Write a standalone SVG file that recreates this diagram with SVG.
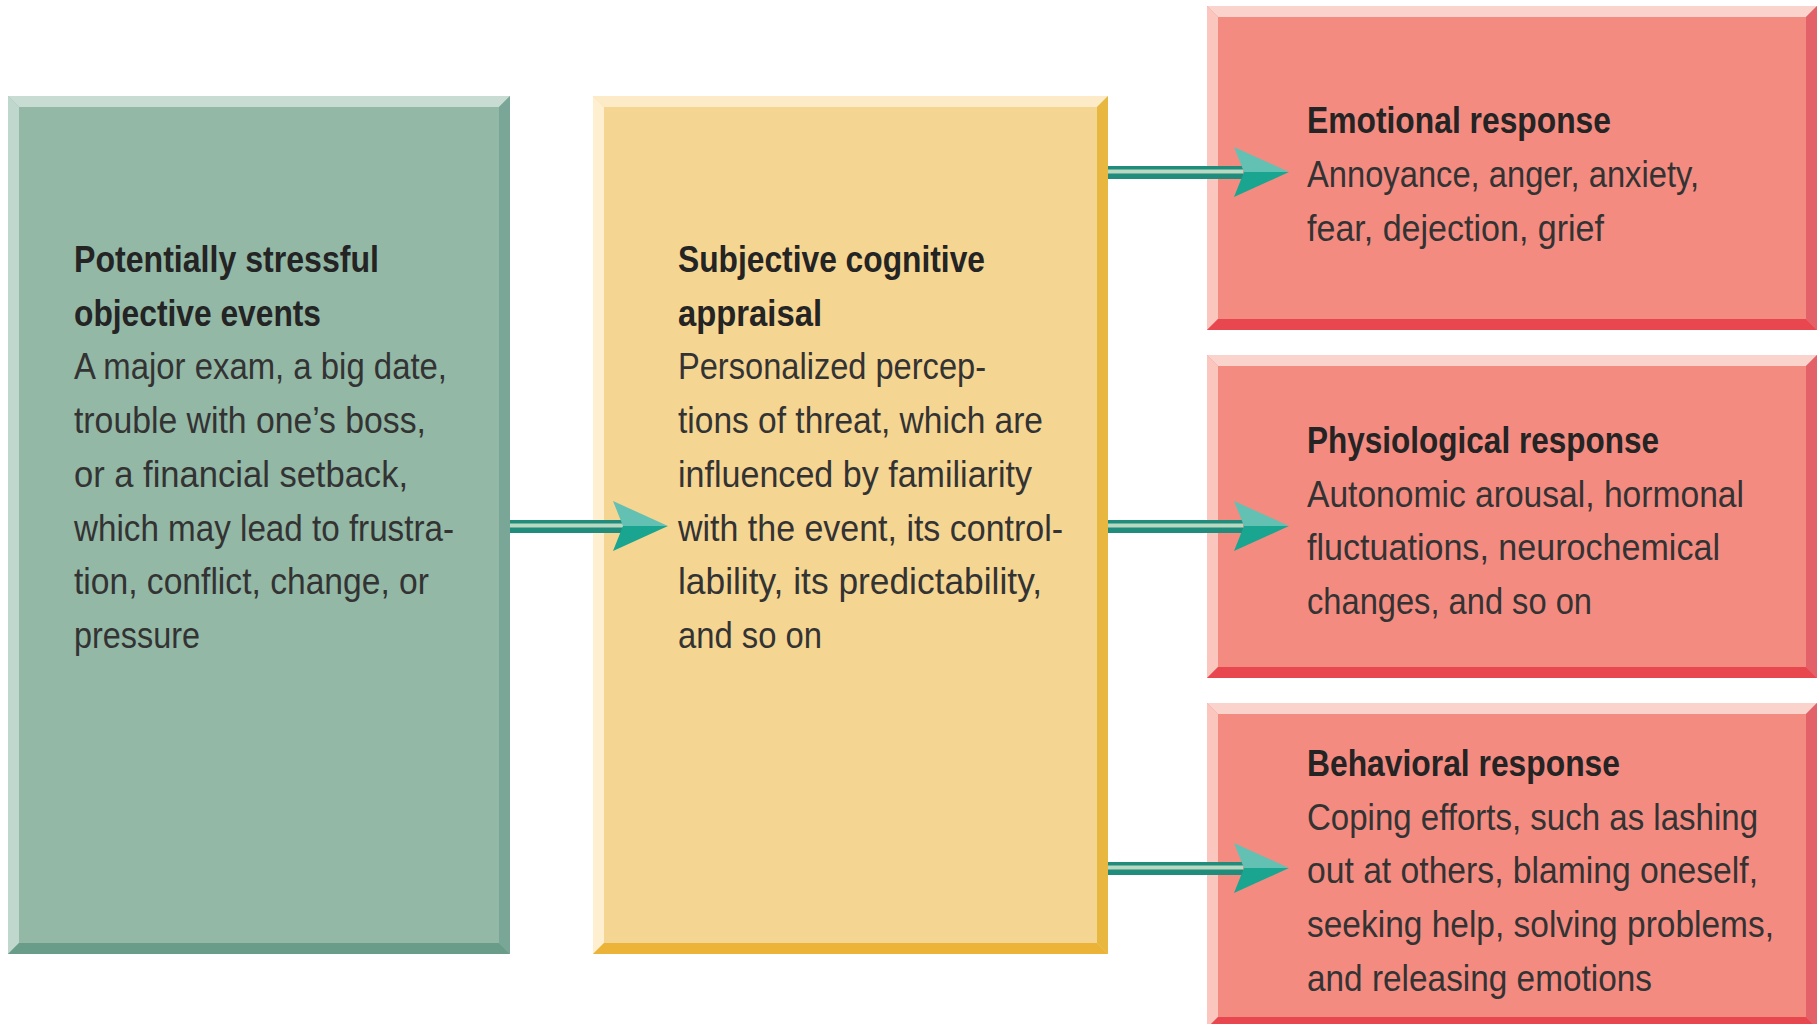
<svg xmlns="http://www.w3.org/2000/svg" width="1817" height="1024" viewBox="0 0 1817 1024">
<style>
text{font-family:"Liberation Sans","Open Sans",sans-serif;font-size:37px}
.t{font-weight:bold;fill:#242424}
.b{fill:#333}
.g{fill:#93b8a6}.gT{fill:#c8dcd3}.gL{fill:#bfd7cd}.gR{fill:#7aa697}.gB{fill:#6a9c8a}
.y{fill:#f5d592}.yT{fill:#fcebc6}.yL{fill:#fdefcf}.yR{fill:#e8b740}.yB{fill:#ebb438}
.r{fill:#f48b81}.rT{fill:#f9d3cc}.rL{fill:#fac6be}.rR{fill:#e3626a}.rB{fill:#e8474f}
.sd{fill:#1f8c7c}.sl{fill:#b8d8c2}
</style>
<defs>
<g id="head">
<polygon points="-55,-25 0,0 -45,0" fill="#62c1b2"/>
<polygon points="-45,0 0,0 -55,25" fill="#19a58f"/>
</g>
</defs>
<rect width="1817" height="1024" fill="#ffffff"/>

<g id="node-events">
<rect class="g" x="8" y="96" width="502" height="858"/>
<polygon class="gT" points="8,96 510,96 499,107 19,107"/>
<polygon class="gL" points="8,96 19,107 19,943 8,954"/>
<polygon class="gR" points="510,96 510,954 499,943 499,107"/>
<polygon class="gB" points="8,954 19,943 499,943 510,954"/>
<text class="t" x="74" y="272" textLength="305" lengthAdjust="spacingAndGlyphs">Potentially stressful</text>
<text class="t" x="74" y="325.7" textLength="247" lengthAdjust="spacingAndGlyphs">objective events</text>
<text class="b" x="74" y="379.4" textLength="373" lengthAdjust="spacingAndGlyphs">A major exam, a big date,</text>
<text class="b" x="74" y="433" textLength="352" lengthAdjust="spacingAndGlyphs">trouble with one’s boss,</text>
<text class="b" x="74" y="486.8" textLength="334" lengthAdjust="spacingAndGlyphs">or a financial setback,</text>
<text class="b" x="74" y="540.5" textLength="380" lengthAdjust="spacingAndGlyphs">which may lead to frustra-</text>
<text class="b" x="74" y="594" textLength="355" lengthAdjust="spacingAndGlyphs">tion, conflict, change, or</text>
<text class="b" x="74" y="648" textLength="126" lengthAdjust="spacingAndGlyphs">pressure</text>
</g>

<g id="node-appraisal">
<rect class="y" x="593" y="96" width="515" height="858"/>
<polygon class="yT" points="593,96 1108,96 1097,107 604,107"/>
<polygon class="yL" points="593,96 604,107 604,943 593,954"/>
<polygon class="yR" points="1108,96 1108,954 1097,943 1097,107"/>
<polygon class="yB" points="593,954 604,943 1097,943 1108,954"/>
<text class="t" x="678" y="272" textLength="307" lengthAdjust="spacingAndGlyphs">Subjective cognitive</text>
<text class="t" x="678" y="325.7" textLength="144" lengthAdjust="spacingAndGlyphs">appraisal</text>
<text class="b" x="678" y="379.4" textLength="308" lengthAdjust="spacingAndGlyphs">Personalized percep-</text>
<text class="b" x="678" y="433" textLength="365" lengthAdjust="spacingAndGlyphs">tions of threat, which are</text>
<text class="b" x="678" y="486.8" textLength="354" lengthAdjust="spacingAndGlyphs">influenced by familiarity</text>
<text class="b" x="678" y="540.5" textLength="385" lengthAdjust="spacingAndGlyphs">with the event, its control-</text>
<text class="b" x="678" y="594" textLength="364" lengthAdjust="spacingAndGlyphs">lability, its predictability,</text>
<text class="b" x="678" y="648" textLength="144" lengthAdjust="spacingAndGlyphs">and so on</text>
</g>

<g id="node-emotional">
<rect class="r" x="1207" y="6" width="610" height="324"/>
<polygon class="rT" points="1207,6 1817,6 1806,17 1218,17"/>
<polygon class="rL" points="1207,6 1218,17 1218,319 1207,330"/>
<polygon class="rR" points="1817,6 1817,330 1806,319 1806,17"/>
<polygon class="rB" points="1207,330 1218,319 1806,319 1817,330"/>
<text class="t" x="1307" y="133" textLength="304" lengthAdjust="spacingAndGlyphs">Emotional response</text>
<text class="b" x="1307" y="187" textLength="392" lengthAdjust="spacingAndGlyphs">Annoyance, anger, anxiety,</text>
<text class="b" x="1307" y="241" textLength="297" lengthAdjust="spacingAndGlyphs">fear, dejection, grief</text>
</g>

<g id="node-physiological">
<rect class="r" x="1207" y="355" width="610" height="323"/>
<polygon class="rT" points="1207,355 1817,355 1806,366 1218,366"/>
<polygon class="rL" points="1207,355 1218,366 1218,667 1207,678"/>
<polygon class="rR" points="1817,355 1817,678 1806,667 1806,366"/>
<polygon class="rB" points="1207,678 1218,667 1806,667 1817,678"/>
<text class="t" x="1307" y="453" textLength="352" lengthAdjust="spacingAndGlyphs">Physiological response</text>
<text class="b" x="1307" y="507" textLength="437" lengthAdjust="spacingAndGlyphs">Autonomic arousal, hormonal</text>
<text class="b" x="1307" y="560" textLength="413" lengthAdjust="spacingAndGlyphs">fluctuations, neurochemical</text>
<text class="b" x="1307" y="614" textLength="285" lengthAdjust="spacingAndGlyphs">changes, and so on</text>
</g>

<g id="node-behavioral">
<rect class="r" x="1207" y="703" width="610" height="325"/>
<polygon class="rT" points="1207,703 1817,703 1806,714 1218,714"/>
<polygon class="rL" points="1207,703 1218,714 1218,1017 1207,1028"/>
<polygon class="rR" points="1817,703 1817,1028 1806,1017 1806,714"/>
<polygon class="rB" points="1207,1028 1218,1017 1806,1017 1817,1028"/>
<text class="t" x="1307" y="776" textLength="313" lengthAdjust="spacingAndGlyphs">Behavioral response</text>
<text class="b" x="1307" y="830" textLength="451" lengthAdjust="spacingAndGlyphs">Coping efforts, such as lashing</text>
<text class="b" x="1307" y="883" textLength="451" lengthAdjust="spacingAndGlyphs">out at others, blaming oneself,</text>
<text class="b" x="1307" y="937" textLength="467" lengthAdjust="spacingAndGlyphs">seeking help, solving problems,</text>
<text class="b" x="1307" y="991" textLength="345" lengthAdjust="spacingAndGlyphs">and releasing emotions</text>
</g>

<g id="connectors">
<g id="c1">
<rect class="sd" x="510" y="520" width="115" height="13"/>
<rect class="sl" x="510" y="523.5" width="115" height="4"/>
<use href="#head" transform="translate(668,526)"/>
</g>
<g id="c2">
<rect class="sd" x="1108" y="166" width="135" height="13"/>
<rect class="sl" x="1108" y="169.5" width="135" height="4"/>
<use href="#head" transform="translate(1289,172)"/>
</g>
<g id="c3">
<rect class="sd" x="1108" y="520" width="135" height="13"/>
<rect class="sl" x="1108" y="523.5" width="135" height="4"/>
<use href="#head" transform="translate(1289,526)"/>
</g>
<g id="c4">
<rect class="sd" x="1108" y="862" width="135" height="13"/>
<rect class="sl" x="1108" y="865.5" width="135" height="4"/>
<use href="#head" transform="translate(1289,868)"/>
</g>
</g>
</svg>
